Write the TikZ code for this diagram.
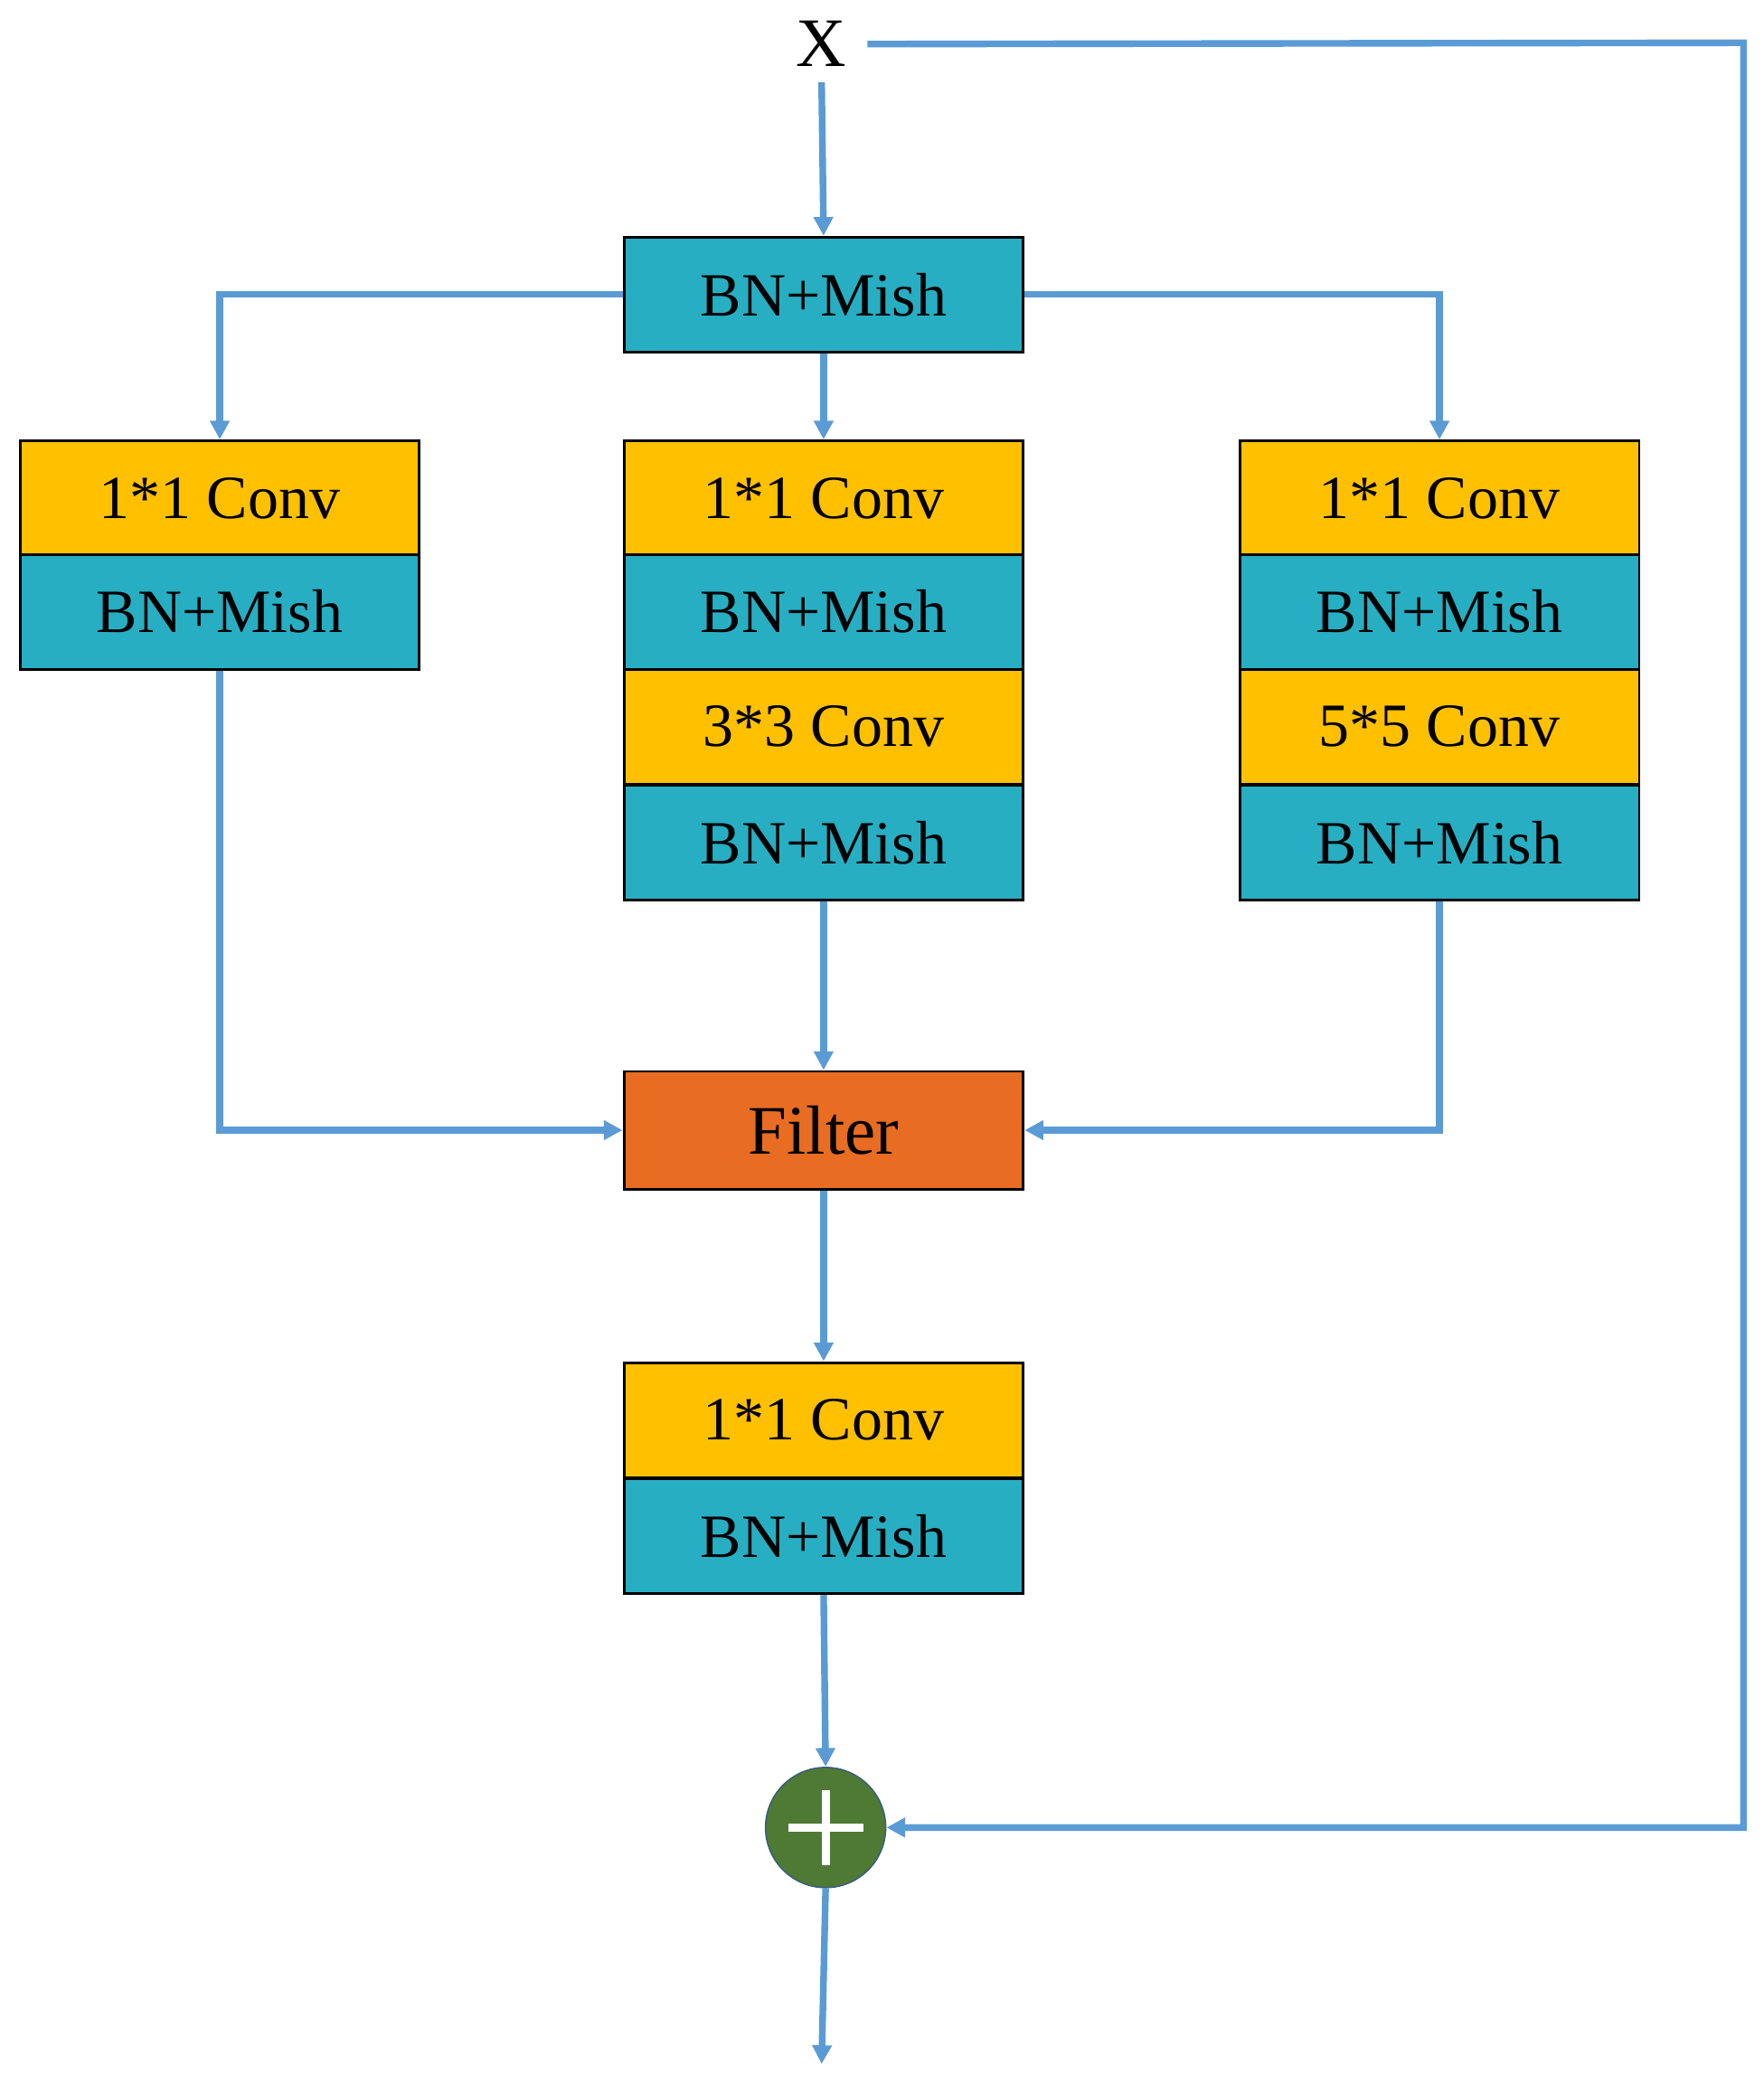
\documentclass[tikz,border=0pt]{standalone}
\usepackage{fontspec}
\setmainfont{Liberation Serif}
\usetikzlibrary{arrows.meta}
\definecolor{cy}{HTML}{FFC000}
\definecolor{ct}{HTML}{27AEC2}
\definecolor{co}{HTML}{E86C22}
\definecolor{cg}{HTML}{4E7A33}
\definecolor{cl}{HTML}{5B9BD5}
\begin{document}
\begin{tikzpicture}[x=1pt,y=-1pt,
  blk/.style={draw=black,line width=2pt,minimum width=299pt,minimum height=86pt,inner sep=0pt,font=\fontsize{46}{50}\selectfont},
  conv/.style={blk,fill=cy},
  bn/.style={blk,fill=ct},
  ar/.style={draw=cl,line width=5pt,-{Triangle[length=14pt,width=14pt]}},
  ln/.style={draw=cl,line width=5pt}]
\useasboundingbox (0,0) rectangle (1320,1560);
\node[font=\fontsize{52}{56}\selectfont] (x) at (615,33) {X};
\node[bn] (top) at (616.5,220.5) {BN+Mish};
\node[conv] (l1) at (164.5,373) {1*1 Conv};
\node[bn] (l2) at (164.5,458) {BN+Mish};
\node[conv] (m1) at (616.5,373) {1*1 Conv};
\node[bn] (m2) at (616.5,458) {BN+Mish};
\node[conv] (m3) at (616.5,544) {3*3 Conv};
\node[bn] (m4) at (616.5,631) {BN+Mish};
\node[conv] (r1) at (1077.5,373) {1*1 Conv};
\node[bn] (r2) at (1077.5,458) {BN+Mish};
\node[conv] (r3) at (1077.5,544) {5*5 Conv};
\node[bn] (r4) at (1077.5,631) {BN+Mish};
\node[blk,fill=co,minimum height=88pt,font=\fontsize{52}{56}\selectfont] (f) at (616.5,846) {Filter};
\node[conv] (b1) at (616.5,1063) {1*1 Conv};
\node[bn] (b2) at (616.5,1150) {BN+Mish};
\node[circle,fill=cg,draw=cl!60!black,line width=1pt,minimum size=90pt,inner sep=0pt] (c) at (618,1368) {};
\draw[white,line width=6pt] (c.center)++(-28,0) -- ++(56,0) (c.center)++(0,-28) -- ++(0,56);
\coordinate (out) at (615,1545);
\draw[ar] (x.south) ++(0,8) -- (top.north);
\draw[ar] (top.west) -| (l1.north);
\draw[ar] (top.east) -| (r1.north);
\draw[ar] (top.south) -- (m1.north);
\draw[ar] (l2.south) |- (f.west);
\draw[ar] (r4.south) |- (f.east);
\draw[ar] (m4.south) -- (f.north);
\draw[ar] (f.south) -- (b1.north);
\draw[ar] (b2.south) -- (c.north);
\draw[ar] (c.south) -- (out);
\draw[ar] (x.east) ++(12,0) -- (1305,32) -- (1305,1368) -- (c.east);
\end{tikzpicture}
\end{document}
